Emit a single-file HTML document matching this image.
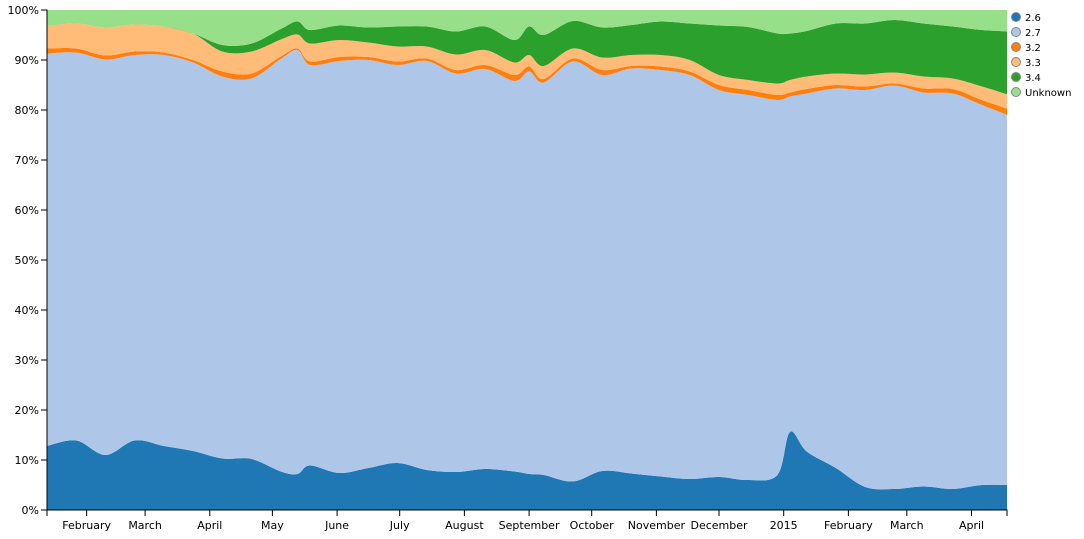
<!DOCTYPE html>
<html><head><meta charset="utf-8"><style>
html,body{margin:0;padding:0;background:#fff;}
svg{display:block;font-family:"DejaVu Sans","Liberation Sans",sans-serif;}
text{font-size:11px;fill:#000;}
</style></head><body>
<svg id="chart" width="1084" height="539" viewBox="0 0 1084 539" xmlns="http://www.w3.org/2000/svg">
<defs><clipPath id="plotclip"><rect x="47" y="10" width="960" height="500"/></clipPath></defs>
<g id="areas" clip-path="url(#plotclip)"></g>
<g id="yaxis"></g>
<g id="xaxis"></g>
<g id="legend"></g>
</svg>
<script>
const dates = ["2014-01-13","2014-01-27","2014-02-10","2014-02-24","2014-03-10","2014-03-24","2014-04-07","2014-04-21","2014-05-05","2014-05-13","2014-05-19","2014-06-02","2014-06-16","2014-06-30","2014-07-14","2014-07-28","2014-08-11","2014-08-25","2014-09-01","2014-09-08","2014-09-22","2014-10-06","2014-10-20","2014-11-03","2014-11-17","2014-12-01","2014-12-15","2014-12-29","2015-01-04","2015-01-12","2015-01-26","2015-02-09","2015-02-23","2015-03-09","2015-03-23","2015-04-06","2015-04-20"];
const seriesNames = ["2.6","2.7","3.2","3.3","3.4","Unknown"];
const v26 = [12.8,13.9,11.0,13.9,12.8,11.8,10.3,10.2,7.7,7.2,8.9,7.4,8.4,9.4,8.0,7.6,8.2,7.7,7.2,7.0,5.7,7.8,7.3,6.7,6.2,6.6,6.0,7.0,15.6,11.7,8.4,4.6,4.2,4.7,4.2,5.0,5.0];
const v27 = [78.5,77.6,79.1,77.1,78.2,77.7,76.4,76.1,82.5,84.8,80.1,82.4,81.6,79.6,81.8,79.7,80.0,78.1,80.5,78.5,84.0,79.2,81.0,81.3,80.8,77.4,77.0,75.0,67.1,71.6,75.9,79.4,80.7,78.8,79.1,76.0,73.7];
const v32 = [1.0,0.8,0.8,0.7,0.5,0.5,1.0,1.0,0.5,0.3,0.7,0.8,0.6,0.7,0.5,0.7,0.8,1.2,1.0,0.7,0.6,1.0,0.5,0.7,0.7,1.0,1.0,1.0,0.8,0.9,0.7,0.7,0.4,0.8,0.9,1.0,1.3];
const v33 = [4.5,5.0,5.6,5.4,5.2,5.3,4.0,4.4,3.4,2.8,3.6,3.4,2.9,3.0,2.4,3.1,3.0,2.5,2.3,2.6,2.0,2.5,2.2,2.3,2.3,2.0,2.0,2.3,2.5,2.5,2.3,2.4,2.2,2.4,2.1,2.7,2.9];
const v34 = [0,0,0,0,0,0,1.3,1.6,2.1,2.6,2.7,2.9,3.0,4.0,4.0,4.6,4.7,4.5,5.7,6.2,5.5,6.0,6.0,6.7,7.3,9.9,10.6,10.0,9.3,9.1,10.0,10.2,10.5,10.6,10.4,11.3,12.8];
const vUnk = [3.2,2.7,3.5,2.9,3.3,4.7,7.0,6.7,3.8,2.3,4.0,3.1,3.5,3.3,3.3,4.3,3.3,6.0,3.3,5.0,2.2,3.5,3.0,2.3,2.7,3.1,3.4,4.7,4.7,4.2,2.7,2.7,2.0,2.7,3.3,4.0,4.3];
const yTicks = [0,10,20,30,40,50,60,70,80,90,100];
const xTickDates = ["2014-02-01","2014-03-01","2014-04-01","2014-05-01","2014-06-01","2014-07-01","2014-08-01","2014-09-01","2014-10-01","2014-11-01","2014-12-01","2015-01-01","2015-02-01","2015-03-01","2015-04-01"];
const xTickLabels = ["February","March","April","May","June","July","August","September","October","November","December","2015","February","March","April"];

const colors = ["#1f77b4","#aec7e8","#ff7f0e","#ffbb78","#2ca02c","#98df8a"];
const NS = "http://www.w3.org/2000/svg";
const X0 = 47, X1 = 1007, Y0 = 510, Y1 = 10;
const t0 = Date.parse("2014-01-13"), t1 = Date.parse("2015-04-18");
function xScale(d){ return X0 + (Date.parse(d) - t0) / (t1 - t0) * (X1 - X0); }
function yScale(p){ return Y0 - p / 100 * (Y0 - Y1); }

function curve(pts, moveFirst){
  let s = (moveFirst ? "M" : "L") + pts[0][0].toFixed(2) + "," + pts[0][1].toFixed(2);
  for (let i = 0; i < pts.length - 1; i++){
    const p0 = pts[Math.max(0, i-1)], p1 = pts[i], p2 = pts[i+1], p3 = pts[Math.min(pts.length-1, i+2)];
    const c1x = p1[0] + (p2[0]-p0[0])/6, c1y = p1[1] + (p2[1]-p0[1])/6;
    const c2x = p2[0] - (p3[0]-p1[0])/6, c2y = p2[1] - (p3[1]-p1[1])/6;
    s += "C" + c1x.toFixed(2)+","+c1y.toFixed(2)+" "+c2x.toFixed(2)+","+c2y.toFixed(2)+" "+p2[0].toFixed(2)+","+p2[1].toFixed(2);
  }
  return s;
}

const series = [v26, v27, v32, v33, v34, vUnk];
const areas = document.getElementById("areas");
let base = dates.map(() => 0);
series.forEach((vals, si) => {
  const top = vals.map((v, i) => base[i] + v);
  const topPts = dates.map((d, i) => [xScale(d), yScale(si === series.length-1 ? 100 : top[i])]);
  const botPts = dates.map((d, i) => [xScale(d), yScale(base[i])]).reverse();
  const path = document.createElementNS(NS, "path");
  path.setAttribute("d", curve(topPts, true) + curve(botPts, false) + "Z");
  path.setAttribute("fill", colors[si]);
  
  
  areas.appendChild(path);
  base = top;
});

const yaxis = document.getElementById("yaxis");
const yl = document.createElementNS(NS, "path");
yl.setAttribute("d", "M41," + Y1 + "H" + X0 + "V" + Y0 + "H41");
yl.setAttribute("fill", "none"); yl.setAttribute("stroke", "#000");


yaxis.appendChild(yl);
yTicks.forEach(t => {
  const y = yScale(t);
  const ln = document.createElementNS(NS, "line");
  ln.setAttribute("x1", 41); ln.setAttribute("x2", X0); ln.setAttribute("y1", y); ln.setAttribute("y2", y);
  ln.setAttribute("stroke", "#000");
  
  
  yaxis.appendChild(ln);
  const tx = document.createElementNS(NS, "text");
  tx.setAttribute("x", 39); tx.setAttribute("y", y + 4); tx.setAttribute("text-anchor", "end");
  tx.textContent = t + "%";
  
  
  yaxis.appendChild(tx);
});

const xaxis = document.getElementById("xaxis");
const xl = document.createElementNS(NS, "path");
xl.setAttribute("d", "M" + X0 + ",516V" + Y0 + "H" + X1 + "V516");
xl.setAttribute("fill", "none"); xl.setAttribute("stroke", "#000");


xaxis.appendChild(xl);
xTickDates.forEach((d, i) => {
  const x = xScale(d);
  const ln = document.createElementNS(NS, "line");
  ln.setAttribute("x1", x); ln.setAttribute("x2", x); ln.setAttribute("y1", Y0); ln.setAttribute("y2", 516);
  ln.setAttribute("stroke", "#000");
  
  
  xaxis.appendChild(ln);
  const tx = document.createElementNS(NS, "text");
  tx.setAttribute("x", x); tx.setAttribute("y", 529); tx.setAttribute("text-anchor", "middle");
  tx.textContent = xTickLabels[i];
  
  
  xaxis.appendChild(tx);
});

const legend = document.getElementById("legend");
seriesNames.forEach((n, i) => {
  const g = document.createElementNS(NS, "g");
  
  
  const c = document.createElementNS(NS, "circle");
  c.setAttribute("cx", 1016); c.setAttribute("cy", 17 + i * 15); c.setAttribute("r", 4.5);
  c.setAttribute("fill", colors[i]); c.setAttribute("stroke", "#888"); c.setAttribute("stroke-width", "1");
  
  
  g.appendChild(c);
  const tx = document.createElementNS(NS, "text");
  tx.setAttribute("x", 1025); tx.setAttribute("y", 21 + i * 15);
  tx.setAttribute("style", "font-size:10px");
  tx.textContent = n;
  
  
  g.appendChild(tx);
  legend.appendChild(g);
});
</script>
</body></html>
